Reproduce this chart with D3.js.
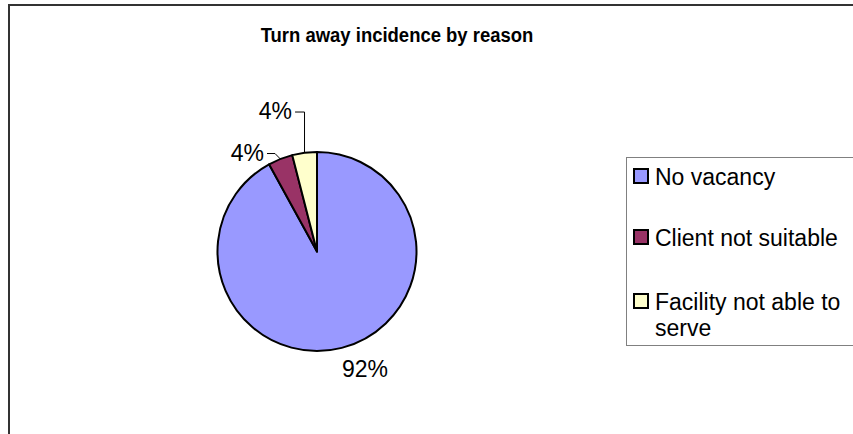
<!DOCTYPE html>
<html>
<head>
<meta charset="utf-8">
<script src="https://cdn.jsdelivr.net/npm/d3@7"></script>
<style>
  html, body { margin: 0; padding: 0; background: #fff; }
  svg { display: block; font-family: "Liberation Sans", Arial, sans-serif; }
</style>
</head>
<body>
<svg id="chart" width="853" height="434"></svg>
<script>
// Turn-away reasons and their share of incidents (%)
const categories = ["No vacancy", "Client not suitable", "Facility not able to serve"];
const values = [92, 4, 4];
const labels = ["92%", "4%", "4%"];
const colors = ["#9999FF", "#993366", "#FFFFCC"];
const title = "Turn away incidence by reason";

const svg = d3.select("#chart");

// chart frame
svg.append("rect")
  .attr("x", 9).attr("y", 5)
  .attr("width", 900).attr("height", 500)
  .attr("fill", "#fff").attr("stroke", "#333").attr("stroke-width", 2);

// title, set slightly condensed
svg.append("text")
  .attr("transform", "translate(397,42) scale(0.88,1)")
  .attr("text-anchor", "middle")
  .attr("font-size", 21).attr("font-weight", "bold")
  .text(title);

const cx = 317, cy = 251.5, r = 99.5;
const g = svg.append("g").attr("transform", `translate(${cx},${cy})`);

const pie = d3.pie().sort(null).value(d => d);
const arcs = pie(values);
const arc = d3.arc().innerRadius(0).outerRadius(r);

g.selectAll("path.slice")
  .data(arcs)
  .join("path")
  .attr("class", "slice")
  .attr("d", arc)
  .attr("fill", (d, i) => colors[i])
  .attr("stroke", "#000")
  .attr("stroke-width", 2)
  .attr("stroke-linejoin", "round");

// label placement: angle shift (radians) and distance from centre
const labelLayout = [
  { shift: -0.138, dist: 126.5, leader: false },
  { shift: -0.236, dist: 121, leader: true },
  { shift: -0.162, dist: 146.5, leader: true }
];

const mid = d => (d.startAngle + d.endAngle) / 2;
const polar = (a, dist) => [Math.sin(a) * dist, -Math.cos(a) * dist];

arcs.forEach((d, i) => {
  const L = labelLayout[i];
  const a = mid(d);
  const [lx, ly] = polar(a + L.shift, L.dist);
  const t = g.append("text")
    .attr("x", lx).attr("y", ly)
    .attr("dy", "0.35em")
    .attr("text-anchor", "middle")
    .attr("font-size", 23)
    .attr("fill", "#000")
    .text(labels[i]);
  if (L.leader) {
    const w = t.node().getComputedTextLength();
    const [ax, ay] = polar(a, r);
    const x0 = lx + w / 2 + 3;
    const ky = ly + 1;
    const kx = i === 2 ? ax : x0 + 8;
    g.append("polyline")
      .attr("points", [[x0, ky], [kx, ky], [ax, ay]].map(p => p.join(",")).join(" "))
      .attr("fill", "none")
      .attr("stroke", "#000")
      .attr("stroke-width", 1);
  }
});

// legend
const legend = svg.append("g");
legend.append("rect")
  .attr("x", 626.5).attr("y", 157.5)
  .attr("width", 300).attr("height", 188)
  .attr("fill", "#fff").attr("stroke", "#808080").attr("stroke-width", 1);

const legendBase = [185, 246, 310];
categories.forEach((c, i) => {
  const base = legendBase[i];
  legend.append("rect")
    .attr("x", 634).attr("y", base - 16)
    .attr("width", 14).attr("height", 14)
    .attr("fill", colors[i]).attr("stroke", "#000").attr("stroke-width", 2);
  const lines = c === "Facility not able to serve" ? ["Facility not able to", "serve"] : [c];
  const t = legend.append("text")
    .attr("font-size", 23)
    .attr("fill", "#000");
  lines.forEach((w, k) => {
    t.append("tspan").attr("x", 655).attr("y", base + k * 26).text(w);
  });
});
</script>
</body>
</html>
